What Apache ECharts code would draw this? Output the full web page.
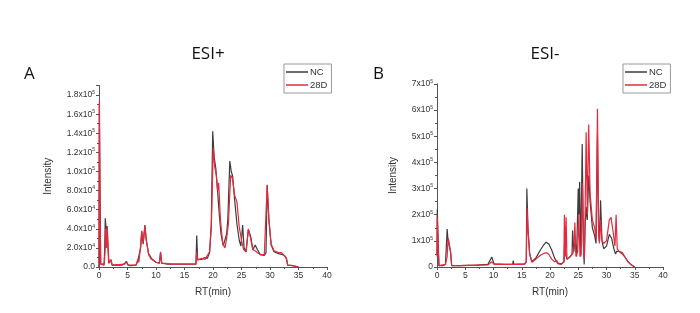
<!DOCTYPE html>
<html>
<head>
<meta charset="utf-8">
<script src="https://cdn.jsdelivr.net/npm/echarts@6/dist/echarts.min.js"></script>
<style>html,body{margin:0;padding:0;background:#fff;}#c{width:700px;height:313px;}</style>
</head>
<body>
<div id="c"></div>
<script>
// ---------- DATA ----------
const xTicks = [0, 5, 10, 15, 20, 25, 30, 35, 40];

// Panel A (ESI+)
const yMantA = ['0.0','2.0','4.0','6.0','8.0','1.0','1.2','1.4','1.6','1.8'];
const yExpA  = ['',  '4',  '4',  '4',  '4',  '5',  '5',  '5',  '5',  '5'];

const tA_NC = [0,0.05,0.15,0.3,0.5,0.9,1.0,1.1,1.25,1.4,1.55,1.7,1.9,2.1,2.3,3.0,4.0,4.5,4.8,5.1,5.5,6.5,6.8,7.0,7.3,7.5,7.75,8.05,8.3,8.7,9.2,10.0,10.6,10.8,11.0,12.0,13.0,13.3,13.6,15.0,16.0,17.0,17.15,17.3,17.6,18.0,18.3,18.6,19.0,19.4,19.7,19.95,20.2,20.5,20.8,21.1,21.4,21.8,22.1,22.4,22.6,22.95,23.2,23.45,23.8,24.2,24.6,24.9,25.2,25.45,25.8,26.2,26.6,27.0,27.4,27.8,28.3,29.0,29.3,29.5,29.8,30.2,30.7,31.5,32.2,32.7,32.9,33.1,34.0,35.0];
const vA_NC = [0,170000,100000,3000,2000,3000,20000,51000,40000,43000,25000,4000,3000,7000,2000,2000,2000,3500,6000,2000,1500,2000,6000,4000,20000,37000,24000,44000,28000,14000,9000,5000,4000,15000,4000,3000,3000,4500,3000,3000,3000,3000,33000,8000,6000,8000,8000,10000,9000,15000,45000,142000,115000,103000,80000,55000,35000,22000,23000,35000,50000,111000,100000,95000,70000,45000,28000,22000,44000,20000,16000,39000,32000,18000,23000,18000,13000,12000,15000,86000,50000,23000,16000,14000,13000,11000,8000,2000,1500,0];

const tA_28D = [0,0.08,0.2,0.3,0.9,1.05,1.2,1.3,1.45,1.6,1.75,2.1,2.3,4.5,4.8,5.1,6.5,6.8,7.0,7.3,7.5,7.75,8.05,8.3,8.7,9.2,10.0,10.6,10.8,11.0,13.0,13.3,13.6,17.0,17.15,17.3,17.6,18.0,18.3,18.6,18.9,19.4,19.7,20.05,20.3,20.6,20.8,21.0,21.3,21.7,22.1,22.4,22.7,23.1,23.4,23.8,24.2,24.6,24.9,25.1,25.4,25.8,26.2,26.6,27.0,27.4,27.8,28.3,29.0,29.3,29.5,29.8,30.2,30.7,31.5,32.0,32.5,32.9,33.1,34.0,35.0];
const vA_28D = [0,175000,50000,3000,2000,15000,40000,20000,42000,20000,4000,8000,2000,3000,5500,2000,2000,8000,5000,22000,38000,25000,43000,28000,13000,8000,5000,4000,16000,4000,3000,4000,3000,3000,16000,7000,7000,9000,10000,8000,10000,16000,40000,125000,105000,95000,80000,88000,50000,25000,20000,30000,45000,96000,93000,75000,68000,42000,41000,25000,18000,16000,40000,30000,18000,17000,15000,13000,13000,15000,85000,50000,24000,17000,15000,15000,12000,9000,2000,1500,0];

// Panel B (ESI-)
const yMantB = ['0','1','2','3','4','5','6','7'];
const yExpB  = ['', '5','5','5','5','5','5','5'];

const tB_NC = [0,0.05,0.2,0.35,1.0,1.5,1.8,1.95,2.1,2.4,2.6,4,7,9.0,9.7,10.1,12,13.4,13.5,13.6,15.5,15.8,15.9,16.1,16.4,16.8,17.5,18.3,18.9,19.3,19.8,20.3,20.8,21.3,22.0,22.5,22.6,22.8,23.0,23.6,23.9,24.0,24.2,24.45,24.7,25.0,25.1,25.25,25.45,25.7,25.9,26.05,26.2,26.4,26.6,26.85,27.1,27.5,27.9,28.15,28.4,28.6,28.75,28.95,29.2,29.5,30.0,30.5,30.9,31.3,31.6,31.8,32.2,32.8,33.2,33.8,34.3,35.0];
const vB_NC = [50000,220000,100000,5000,5000,10000,145000,100000,95000,60000,5000,5000,7000,10000,38000,12000,10000,10000,25000,10000,12000,20000,300000,150000,50000,20000,35000,65000,85000,95000,88000,65000,35000,15000,12000,20000,110000,50000,30000,40000,50000,140000,60000,100000,40000,300000,200000,325000,40000,470000,100000,10000,150000,230000,180000,350000,250000,150000,120000,90000,505000,150000,100000,255000,100000,70000,80000,125000,110000,70000,50000,60000,60000,50000,40000,20000,10000,0];

const tB_28D = [0,0.05,0.2,0.35,1.5,1.8,1.95,2.1,2.4,2.6,4,7,9.0,9.7,10.1,15.5,15.8,15.95,16.1,16.4,16.8,17.5,18.3,18.9,19.4,19.8,20.3,20.8,21.2,21.5,22.0,22.45,22.55,22.7,22.85,23.0,23.6,24.0,24.2,24.4,24.6,24.9,25.1,25.3,25.5,25.75,25.95,26.1,26.4,26.6,26.85,27.1,27.5,27.9,28.15,28.4,28.6,28.75,28.95,29.2,29.5,30.0,30.5,30.8,31.2,31.5,31.7,31.9,32.2,32.8,33.2,33.8,34.3,35.0];
const vB_28D = [40000,190000,80000,5000,10000,40000,110000,100000,55000,5000,5000,7000,8000,20000,10000,10000,20000,225000,140000,50000,18000,30000,45000,52000,55000,48000,30000,20000,25000,12000,10000,20000,200000,40000,190000,30000,40000,50000,60000,170000,40000,60000,200000,40000,50000,320000,50000,30000,515000,200000,545000,280000,180000,150000,110000,605000,120000,90000,180000,100000,90000,100000,180000,190000,130000,80000,200000,70000,60000,55000,40000,20000,10000,0];

// ---------- CHART ----------
const zip = (t, v) => t.map((x, i) => [x, v[i]]);
const C_NC = '#3c3c3c', C_28D = '#e8283c';
const FONT = 'Liberation Sans, Arial, sans-serif';

function yAxis(gridIndex, max, interval, mant, exp, nameGap) {
  return {
    gridIndex, type: 'value', min: 0, max, interval,
    name: 'Intensity', nameLocation: 'middle', nameGap, nameRotate: 90,
    nameTextStyle: { fontSize: 10, color: '#333', fontFamily: FONT },
    axisLine: { show: true, lineStyle: { color: '#555', width: 1 } },
    axisTick: { show: true, inside: false, length: 3, lineStyle: { color: '#555' } },
    minorTick: { show: true, splitNumber: 2, length: 2, lineStyle: { color: '#555' } },
    splitLine: { show: false },
    axisLabel: {
      showMaxLabel: true, showMinLabel: true, fontSize: 8.5, color: '#333', fontFamily: FONT, margin: 4,
      formatter: v => {
        const i = Math.round(v / interval);
        if (Math.abs(v - i * interval) > 1e-6 || i >= mant.length) return '';
        return exp[i] ? '{b|' + mant[i] + 'x10}{s|' + exp[i] + '}' : '{b|' + mant[i] + '}';
      },
      rich: {
        b: { fontSize: 8.5, color: '#333', fontFamily: FONT },
        s: { fontSize: 5, color: '#333', fontFamily: FONT, padding: [0, 0, 5, 0] }
      }
    }
  };
}
function xAxis(gridIndex) {
  return {
    gridIndex, type: 'value', min: 0, max: 40, interval: 5,
    name: 'RT(min)', nameLocation: 'middle', nameGap: 20,
    nameTextStyle: { fontSize: 10, color: '#333', fontFamily: FONT },
    axisLine: { show: true, onZero: false, lineStyle: { color: '#555', width: 1 } },
    axisTick: { show: true, inside: false, length: 3, lineStyle: { color: '#555' } },
    minorTick: { show: true, splitNumber: 2, length: 2, lineStyle: { color: '#555' } },
    splitLine: { show: false },
    axisLabel: { fontSize: 8.5, color: '#333', fontFamily: FONT, margin: 4,
      formatter: v => xTicks.includes(v) ? String(v) : '' }
  };
}
function line(name, data, color, idx) {
  return { name, type: 'line', xAxisIndex: idx, yAxisIndex: idx, data, symbol: 'none',
    showSymbol: false, animation: false, lineStyle: { color, width: 1.2 }, itemStyle: { color } };
}
function legend(left, top) {
  return {
    left, top, orient: 'vertical', data: ['NC', '28D'],
    icon: 'rect', itemWidth: 22, itemHeight: 1.5, itemGap: 3, padding: [3, 4, 3, 2],
    borderColor: '#999', borderWidth: 1, borderRadius: 0,
    textStyle: { fontSize: 9.5, color: '#333', fontFamily: FONT, padding: [0, 0, 0, -3], lineHeight: 9 },
    selectedMode: false
  };
}

const chart = echarts.init(document.getElementById('c'), null, { renderer: 'canvas' });
chart.setOption({
  animation: false,
  backgroundColor: '#fff',
  title: [
    { text: 'ESI+', left: 203, top: 41, textAlign: 'center', textStyle: { fontSize: 17, fontWeight: 'normal', color: '#111', fontFamily: 'Open Sans, sans-serif' } },
    { text: 'ESI-', left: 540, top: 41, textAlign: 'center', textStyle: { fontSize: 17, fontWeight: 'normal', color: '#111', fontFamily: 'Open Sans, sans-serif' } },
    { text: 'A', left: 19, top: 61, textStyle: { fontSize: 17, fontWeight: 'normal', color: '#111', fontFamily: 'Open Sans, sans-serif' } },
    { text: 'B', left: 368, top: 61, textStyle: { fontSize: 17, fontWeight: 'normal', color: '#111', fontFamily: 'Open Sans, sans-serif' } }
  ],
  legend: [legend(284, 64), legend(623, 64)],
  grid: [
    { left: 99, right: 373, top: 85.5, bottom: 46 },
    { left: 437, right: 37, top: 84, bottom: 46 }
  ],
  xAxis: [xAxis(0), xAxis(1)],
  yAxis: [yAxis(0, 190000, 20000, yMantA, yExpA, 46), yAxis(1, 700000, 100000, yMantB, yExpB, 39)],
  series: [
    line('NC', zip(tA_NC, vA_NC), C_NC, 0),
    line('28D', zip(tA_28D, vA_28D), C_28D, 0),
    line('NC', zip(tB_NC, vB_NC), C_NC, 1),
    line('28D', zip(tB_28D, vB_28D), C_28D, 1)
  ]
});
</script>
</body>
</html>
